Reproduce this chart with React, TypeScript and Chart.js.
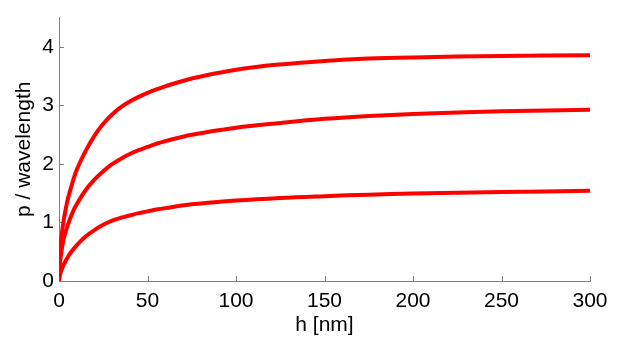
import { useEffect, useRef } from "react";
import { Chart, registerables } from "chart.js";

Chart.register(...registerables);

const hValues = [0, 0.5, 1, 2, 3, 5, 7.5, 10, 15, 20, 25, 30, 35, 40, 45, 50, 55, 60, 75, 100, 125, 150, 175, 200, 250, 300];
const upperSeries = [0, 0.42, 0.63, 0.9, 1.1, 1.4, 1.67, 1.9, 2.22, 2.48, 2.685, 2.845, 2.97, 3.065, 3.145, 3.215, 3.275, 3.326, 3.46, 3.61, 3.7, 3.76, 3.8, 3.82, 3.845, 3.855];
const middleSeries = [0, 0.3, 0.42, 0.62, 0.76, 0.96, 1.16, 1.31, 1.55, 1.73, 1.875, 1.995, 2.09, 2.17, 2.235, 2.29, 2.345, 2.39, 2.5, 2.62, 2.7, 2.77, 2.82, 2.855, 2.9, 2.925];
const lowerSeries = [0, 0.1, 0.15, 0.235, 0.3, 0.41, 0.52, 0.61, 0.76, 0.87, 0.96, 1.03, 1.08, 1.12, 1.16, 1.19, 1.22, 1.245, 1.31, 1.375, 1.42, 1.45, 1.475, 1.495, 1.52, 1.54];
const xTicks = [0, 50, 100, 150, 200, 250, 300];
const yTicks = [0, 1, 2, 3, 4];

const FONT = "Arial, 'Liberation Sans', sans-serif";
const AXIS_GRAY = "#808080";

const inwardTicks = {
  id: "inwardTicks",
  beforeDatasetsDraw(chart: any) {
    const { ctx, chartArea, scales } = chart;
    ctx.save();
    ctx.strokeStyle = AXIS_GRAY;
    ctx.lineWidth = 1;
    scales.x.ticks.forEach((t: any) => {
      const px = Math.round(scales.x.getPixelForValue(t.value)) + 0.5;
      ctx.beginPath();
      ctx.moveTo(px, chartArea.bottom);
      ctx.lineTo(px, chartArea.bottom - 5);
      ctx.stroke();
    });
    scales.y.ticks.forEach((t: any) => {
      const py = Math.round(scales.y.getPixelForValue(t.value)) + 0.5;
      ctx.beginPath();
      ctx.moveTo(chartArea.left, py);
      ctx.lineTo(chartArea.left + 5, py);
      ctx.stroke();
    });
    ctx.restore();
  },
};

function toPoints(values: number[]) {
  return hValues.map((h, i) => ({ x: h, y: values[i] }));
}

export default function App() {
  const canvasRef = useRef<HTMLCanvasElement | null>(null);

  useEffect(() => {
    document.body.style.margin = "0";
    const canvas = canvasRef.current;
    if (!canvas) return;
    const mk = (values: number[]) => ({
      data: toPoints(values),
      borderColor: "#ff0000",
      borderWidth: 4,
      pointRadius: 0,
      tension: 0.35,
      fill: false,
    });
    const chart = new Chart(canvas, {
      type: "line",
      data: {
        datasets: [mk(upperSeries), mk(middleSeries), mk(lowerSeries)],
      },
      options: {
        animation: false,
        responsive: false,
        maintainAspectRatio: false,
        layout: { padding: { left: 0, right: 33, top: 13, bottom: 0 } },
        plugins: {
          legend: { display: false },
          tooltip: { enabled: false },
        },
        scales: {
          x: {
            type: "linear",
            min: 0,
            max: 300,
            grid: { display: false, drawTicks: false },
            border: { display: true, color: AXIS_GRAY, width: 1 },
            afterBuildTicks: (scale: any) => {
              scale.ticks = xTicks.map((v) => ({ value: v }));
            },
            afterFit: (scale: any) => {
              scale.height = 63;
            },
            ticks: {
              color: "#000",
              font: { family: FONT, size: 21 },
              padding: 8,
              maxRotation: 0,
              autoSkip: false,
            },
            title: {
              display: true,
              text: "h [nm]",
              color: "#000",
              font: { family: FONT, size: 21 },
              padding: { top: 0, bottom: 6 },
            },
          },
          y: {
            type: "linear",
            min: 0,
            max: 4.5,
            grid: { display: false, drawTicks: false },
            border: { display: true, color: AXIS_GRAY, width: 1 },
            afterBuildTicks: (scale: any) => {
              scale.ticks = yTicks.map((v) => ({ value: v }));
            },
            afterFit: (scale: any) => {
              scale.width = 59;
            },
            ticks: {
              color: "#000",
              font: { family: FONT, size: 21 },
              padding: 5,
              autoSkip: false,
            },
            title: {
              display: true,
              text: "p / wavelength",
              color: "#000",
              font: { family: FONT, size: 21 },
              padding: { top: 12, bottom: 0 },
            },
          },
        },
      },
      plugins: [inwardTicks],
    });
    return () => chart.destroy();
  }, []);

  return (
    <div style={{ position: "absolute", left: 0, top: 0, width: 623, height: 344, background: "#fff" }}>
      <canvas ref={canvasRef} width={623} height={344} style={{ display: "block", width: 623, height: 344 }} />
    </div>
  );
}
